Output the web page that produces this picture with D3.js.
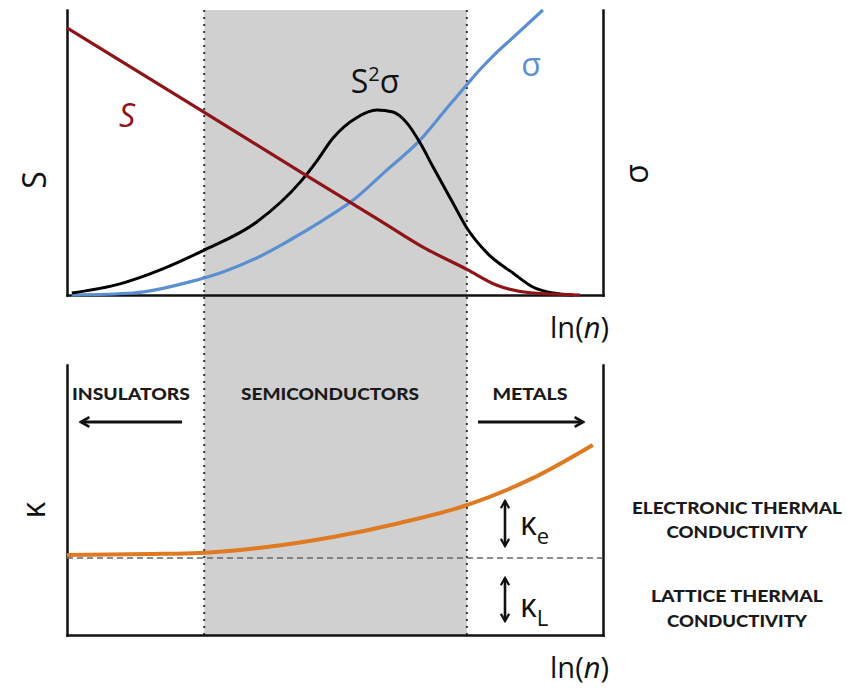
<!DOCTYPE html>
<html><head><meta charset="utf-8">
<script src="https://cdn.jsdelivr.net/npm/d3@7"></script>
<style>body{margin:0;background:#fff}svg{display:block}</style>
</head><body>
<script>
// ---- data (x = ln(n) in arbitrary units 0..100, y in arbitrary units 0..100) ----
const regionBounds = [25.6, 74.6]; // insulators | semiconductors | metals
const seebeck = [[0,93.7],[22.9,67.2],[44.0,42.7],[58.4,26.1],[66.4,16.8],[74.6,9.0],[80.2,3.4],[86.4,0.8],[95.7,0]];
const powerFactor = [[0.9,0.7],[9.9,3.9],[17.4,8.8],[25.4,15.6],[35.4,25.6],[43.5,39.6],[46.6,47.0],[49.6,55.0],[54.1,62.3],[57.8,64.9],[60.8,64.2],[63.4,60.4],[65.9,53.3],[68.3,44.9],[72.0,32.3],[74.6,23.5],[78.4,14.7],[83.2,7.7],[86.9,2.8],[90.7,0.7],[94.4,0]];
const conductivity = [[0.9,0],[12.3,0.7],[22.9,4.6],[29.1,8.1],[35.4,13.0],[41.6,19.3],[47.8,26.3],[53.4,33.3],[59.3,43.2],[65.9,54.4],[70.9,65.6],[74.6,73.8],[77.1,79.2],[80.0,84.8],[83.2,90.3],[88.8,100]];
const kappa = [[0,29.6],[15.5,30.0],[24.8,30.4],[37.3,32.6],[49.6,36.3],[62.1,41.5],[74.6,48.1],[86.9,58.1],[98.1,70.4]];
const kappaLattice = 28.5;
const regionLabels = ["INSULATORS","SEMICONDUCTORS","METALS"];
const legendLines = [["ELECTRONIC THERMAL","CONDUCTIVITY"],["LATTICE THERMAL","CONDUCTIVITY"]];

const W = 847, H = 689;
const svg = d3.select("body").append("svg").attr("width", W).attr("height", H);
const x = d3.scaleLinear().domain([0,100]).range([67,603]);
const yTop = d3.scaleLinear().domain([0,100]).range([295,10]);
const yBot = d3.scaleLinear().domain([0,100]).range([635,365]);

const defs = svg.append("defs");
defs.append("marker").attr("id","ah").attr("viewBox","0 0 10 10").attr("refX",8).attr("refY",5)
  .attr("markerWidth",4).attr("markerHeight",4).attr("orient","auto-start-reverse")
  .append("path").attr("d","M1,1 L8,5 L1,9").attr("fill","none").attr("stroke","#111").attr("stroke-width",2.2).attr("stroke-linejoin","miter");

// shaded semiconductor region
svg.append("rect").attr("x", x(regionBounds[0])).attr("y", 10)
  .attr("width", x(regionBounds[1]) - x(regionBounds[0])).attr("height", 625).attr("fill", "#d0d0d0");
regionBounds.forEach(b => {
  svg.append("line").attr("x1", x(b)).attr("x2", x(b)).attr("y1", 10).attr("y2", 635)
    .attr("stroke", "#333").attr("stroke-width", 2).attr("stroke-dasharray", "2,5");
});

// axes (no ticks)
function drawAxes(y) {
  const ax = svg.append("g");
  ax.append("g").attr("transform", `translate(0,${y(0)})`).call(d3.axisBottom(x).tickValues([]).tickSizeOuter(0));
  ax.append("g").attr("transform", `translate(${x(0)},0)`).call(d3.axisLeft(y).tickValues([]).tickSizeOuter(0));
  ax.append("g").attr("transform", `translate(${x(100)},0)`).call(d3.axisRight(y).tickValues([]).tickSizeOuter(0));
  ax.selectAll(".domain").attr("stroke", "#111").attr("stroke-width", 2.5).attr("stroke-linecap","square");
}
drawAxes(yTop);
drawAxes(yBot);

const curve = d3.curveMonotoneX;
const lineTop = d3.line().x(d => x(d[0])).y(d => yTop(d[1])).curve(curve);
const lineBot = d3.line().x(d => x(d[0])).y(d => yBot(d[1])).curve(curve);

svg.append("path").attr("d", lineTop(conductivity)).attr("fill","none").attr("stroke","#5b8fd1").attr("stroke-width",3.2);
svg.append("path").attr("d", lineTop(powerFactor)).attr("fill","none").attr("stroke","#000").attr("stroke-width",3);
svg.append("path").attr("d", lineTop(seebeck)).attr("fill","none").attr("stroke","#8e1418").attr("stroke-width",3.2);

// bottom panel
svg.append("line").attr("x1", x(0)).attr("x2", x(100)).attr("y1", yBot(kappaLattice)).attr("y2", yBot(kappaLattice))
  .attr("stroke","#666").attr("stroke-width",1.6).attr("stroke-dasharray","6,4");
svg.append("path").attr("d", lineBot(kappa)).attr("fill","none").attr("stroke","#e07a22").attr("stroke-width",4);

const sans = "'Open Sans','Noto Sans',sans-serif";
const bold = "Lato,'Open Sans',sans-serif";

// axis labels
svg.append("text").attr("transform","translate(46,180) rotate(-90)").attr("text-anchor","middle")
  .attr("font-family",sans).attr("font-size",32).attr("fill","#111").text("S");
svg.append("text").attr("transform","translate(648,174) rotate(-90)").attr("text-anchor","middle")
  .attr("font-family",sans).attr("font-size",32).attr("fill","#111").text("σ");
svg.append("text").attr("transform","translate(45,510) rotate(-90)").attr("text-anchor","middle")
  .attr("font-family",sans).attr("font-size",32).attr("fill","#111").text("κ");
[338, 678].forEach(yy => {
  const t = svg.append("text").attr("x", 609).attr("y", yy).attr("text-anchor","end")
    .attr("font-family",sans).attr("font-size",29).attr("fill","#111");
  t.append("tspan").text("ln(");
  t.append("tspan").attr("font-style","italic").text("n");
  t.append("tspan").text(")");
});

// curve labels
svg.append("text").attr("x",127).attr("y",127).attr("text-anchor","middle").attr("font-family",sans)
  .attr("font-size",32).attr("font-style","italic").attr("fill","#8e1418").text("S");
const s2 = svg.append("text").attr("x",375).attr("y",93).attr("text-anchor","middle").attr("font-family",sans)
  .attr("font-size",32).attr("fill","#111");
s2.append("tspan").text("S");
s2.append("tspan").attr("dy",-12).attr("font-size",20).text("2");
s2.append("tspan").attr("dy",12).text("σ");
svg.append("text").attr("x",531).attr("y",76).attr("text-anchor","middle").attr("font-family",sans)
  .attr("font-size",32).attr("fill","#5b8fd1").text("σ");

// region labels and arrows
const regionX = [131, 330, 530], regionW = [118, 178, 75];
regionLabels.forEach((lab, i) => {
  svg.append("text").attr("x", regionX[i]).attr("y", 400).attr("text-anchor","middle")
    .attr("font-family",bold).attr("font-weight",900).attr("font-size",17).attr("fill","#1a1a1a")
    .attr("textLength", regionW[i]).attr("lengthAdjust","spacingAndGlyphs").text(lab);
});
svg.append("line").attr("x1",182).attr("x2",81).attr("y1",422).attr("y2",422)
  .attr("stroke","#111").attr("stroke-width",3).attr("marker-end","url(#ah)");
svg.append("line").attr("x1",478).attr("x2",583).attr("y1",422).attr("y2",422)
  .attr("stroke","#111").attr("stroke-width",3).attr("marker-end","url(#ah)");

// kappa components
[[501,546],[578,621]].forEach(([a,b]) => {
  svg.append("line").attr("x1",505).attr("x2",505).attr("y1",a).attr("y2",b)
    .attr("stroke","#111").attr("stroke-width",2.6)
    .attr("marker-start","url(#ah)").attr("marker-end","url(#ah)");
});
[["e",535],["L",617]].forEach(([sub, yy]) => {
  const t = svg.append("text").attr("x",520).attr("y",yy).attr("font-family",sans).attr("font-size",32).attr("fill","#111");
  t.append("tspan").text("κ");
  t.append("tspan").attr("dy",9).attr("font-size",22).text(sub);
});

// right-hand legend text
const legY = [[514,538],[602,627]];
const legW = [[210,141],[172,140]];
legendLines.forEach((pair, i) => {
  pair.forEach((ln, j) => {
    svg.append("text").attr("x",737).attr("y",legY[i][j]).attr("text-anchor","middle")
      .attr("font-family",bold).attr("font-weight",900).attr("font-size",17).attr("fill","#1a1a1a")
      .attr("textLength", legW[i][j]).attr("lengthAdjust","spacingAndGlyphs").text(ln);
  });
});
</script>
</body></html>
